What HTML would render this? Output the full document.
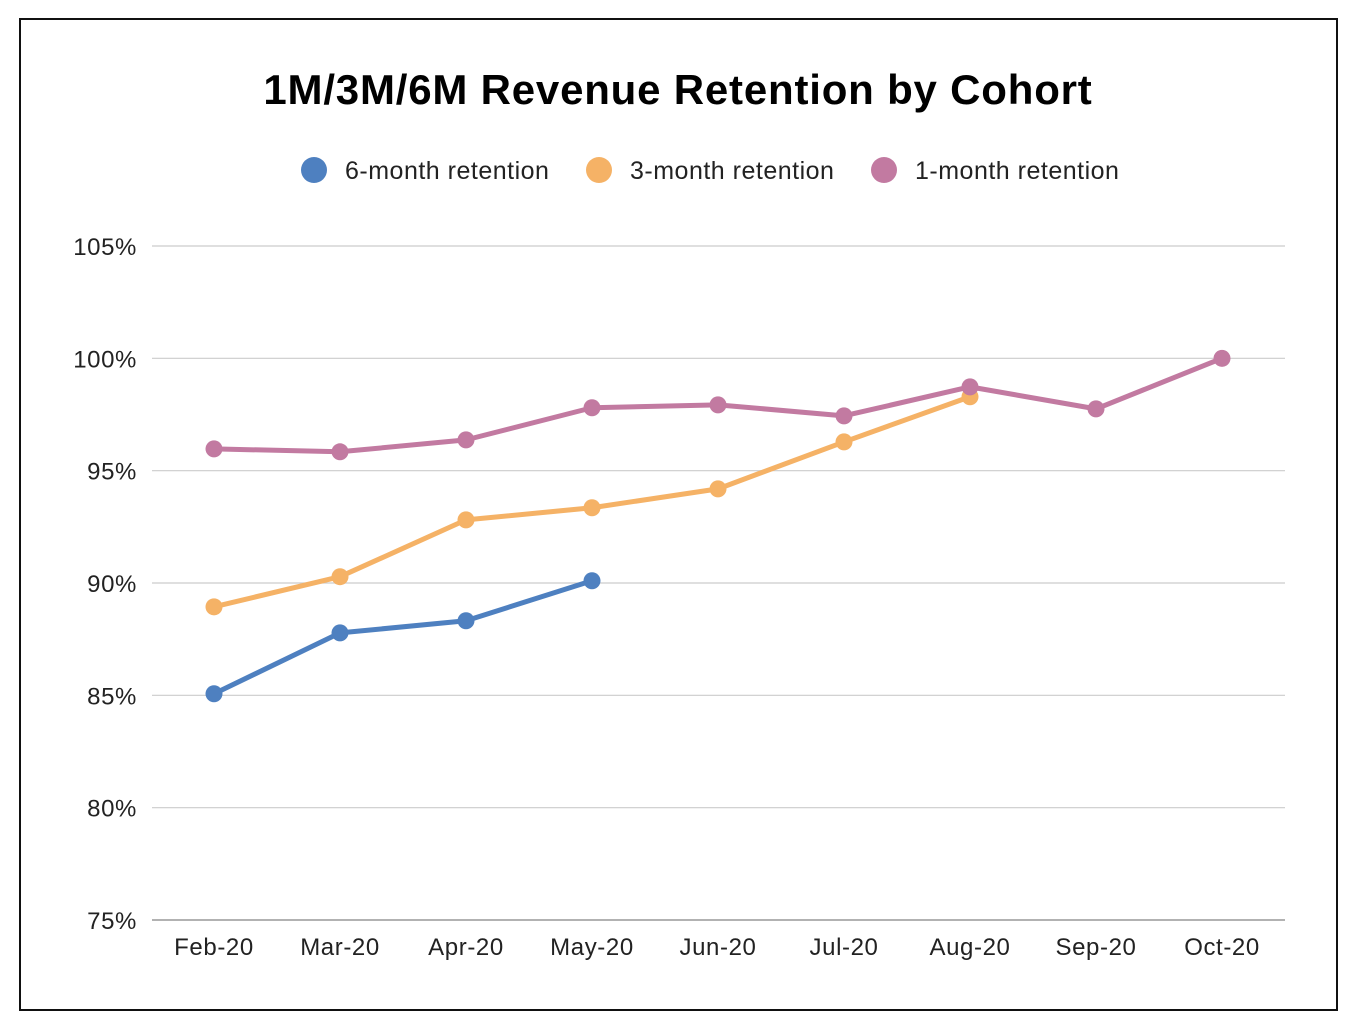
<!DOCTYPE html>
<html><head><meta charset="utf-8"><style>
html,body{margin:0;padding:0;background:#fff;}
svg{display:block;font-family:"Liberation Sans",Arial,sans-serif;}
</style></head><body>
<svg id="chart" width="1358" height="1028" viewBox="0 0 1358 1028">
<rect x="20" y="19" width="1317" height="991" fill="#fff" stroke="#111" stroke-width="2"/>
<text x="678" y="104" text-anchor="middle" font-size="42" letter-spacing="0.8" font-weight="bold" fill="#000">1M/3M/6M Revenue Retention by Cohort</text>
<g id="legend"></g>
<g id="grid"></g>
<g id="yaxis"></g>
<g id="xaxis"></g>
<g id="series"></g>
</svg>
<script>
const categories=["Feb-20","Mar-20","Apr-20","May-20","Jun-20","Jul-20","Aug-20","Sep-20","Oct-20"];
const yTicks=[75,80,85,90,95,100,105];
const sixMonth=[85.07,87.78,88.32,90.1];
const threeMonth=[88.94,90.28,92.81,93.35,94.19,96.28,98.29];
const oneMonth=[95.97,95.84,96.37,97.8,97.93,97.44,98.73,97.75,100];
const seriesNames=["6-month retention","3-month retention","1-month retention"];
const seriesColors=["#4e80c0","#f5b266","#c27aa1"];

const NS="http://www.w3.org/2000/svg";
const X0=214,XSTEP=126,Y105=246,Y75=920,PL=152,PR=1285;
function x(i){return X0+i*XSTEP;}
function y(v){return Y75+(v-75)*(Y105-Y75)/30;}
function mk(tag,attrs,parent){const e=document.createElementNS(NS,tag);for(const k in attrs)e.setAttribute(k,attrs[k]);parent.appendChild(e);return e;}

const grid=document.getElementById('grid'),ya=document.getElementById('yaxis'),xa=document.getElementById('xaxis'),sg=document.getElementById('series'),lg=document.getElementById('legend');
yTicks.forEach(t=>{
  const l=mk('line',{x1:PL,x2:PR,y1:y(t),y2:y(t),stroke:t===75?'#999':'#ccc','stroke-width':t===75?1.5:1.2},grid);
  
  
  const tx=mk('text',{x:137,y:y(t)+9,'text-anchor':'end','font-size':24,'letter-spacing':0.6,fill:'#222'},ya);
  tx.textContent=t+'%';
  
  
});
categories.forEach((c,i)=>{
  const tx=mk('text',{x:x(i),y:955,'text-anchor':'middle','font-size':24,'letter-spacing':0.6,fill:'#222'},xa);
  tx.textContent=c;
  
  
});
const allSeries=[sixMonth,threeMonth,oneMonth];
[1,0,2].forEach(s=>{
  const d=allSeries[s];
  const g=mk('g',{},sg);
  
  
  const p=mk('polyline',{points:d.map((v,i)=>x(i)+','+y(v)).join(' '),fill:'none',stroke:seriesColors[s],'stroke-width':5,'stroke-linejoin':'round'},g);
  
  
  d.forEach((v,i)=>{
    const c=mk('circle',{cx:x(i),cy:y(v),r:8.5,fill:seriesColors[s]},g);
    
    
  });
});
const legX=[314,599,884];
seriesNames.forEach((n,s)=>{
  const g=mk('g',{},lg);
  
  
  mk('circle',{cx:legX[s],cy:170,r:13,fill:seriesColors[s]},g);
  const t=mk('text',{x:legX[s]+31,y:179,'font-size':25,'letter-spacing':0.5,fill:'#222'},g);
  t.textContent=n;
});
</script>
</body></html>
